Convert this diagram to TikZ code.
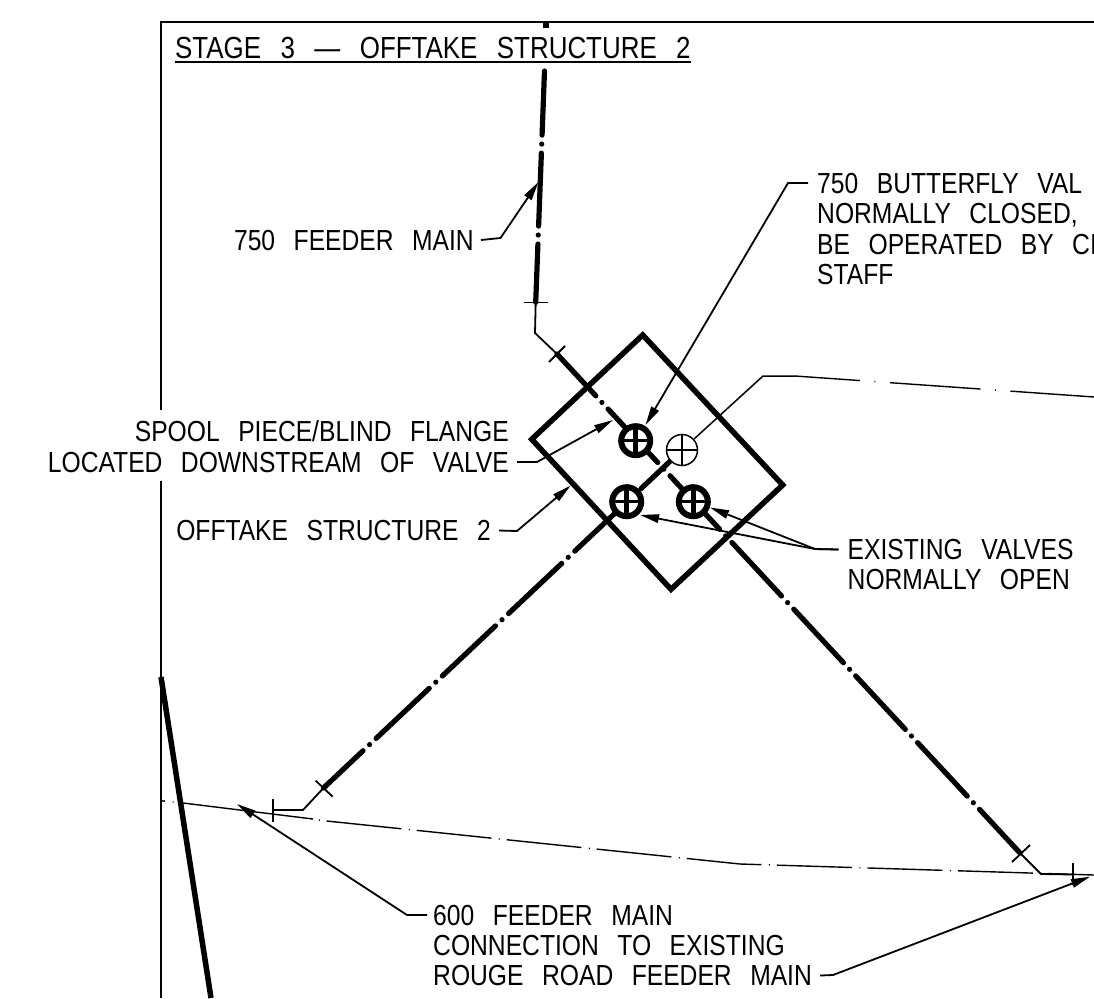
\documentclass[tikz,border=0pt]{standalone}
\usepackage{fontspec}
\setmainfont{Liberation Sans}[FakeStretch=0.85,WordSpace=2.7]
\usetikzlibrary{arrows.meta}
\tikzset{
  lbl/.style={inner sep=0pt,anchor=base west,font=\fontsize{29}{30}\selectfont},
  lblr/.style={lbl,anchor=base east},
  frameline/.style={line width=2pt},
  leader/.style={line width=1.8pt,-{Triangle[length=19pt,width=8.5pt]}},
  thinline/.style={line width=1.5pt},
  tick/.style={line width=1.8pt},
  structure/.style={line width=5.5pt,line join=miter},
  pipe/.style={line width=5.2pt,line cap=round,dash pattern=on 73pt off 9pt on 0.01pt off 9pt},
  centreline/.style={line width=1.4pt},
  valve/.style={circle,draw,fill=white,inner sep=0pt,minimum size=29pt,line width=6pt,
    path picture={
      \draw[line width=5pt] (path picture bounding box.north) to (path picture bounding box.south);
      \draw[line width=3.5pt] (path picture bounding box.west) to (path picture bounding box.east);
    }},
  valveopen/.style={circle,draw,fill=white,inner sep=0pt,minimum size=31pt,line width=1.5pt,
    path picture={
      \draw[line width=1.5pt] (path picture bounding box.north) to (path picture bounding box.south);
      \draw[line width=1.5pt] (path picture bounding box.west) to (path picture bounding box.east);
    }}
}
\begin{document}
\begin{tikzpicture}[x=1pt,y=-1pt]
  \clip (0,0) rectangle (1094,998);
  \draw
    (160.5,22) coordinate (frametl)
    (1094,22) coordinate (frametr)
    (160.5,410) coordinate (framegapa)
    (160.5,481) coordinate (framegapb)
    (160.5,998) coordinate (framebl)
    (546,22) coordinate (stuba)
    (546,28) coordinate (stubb)
    (544.5,71) coordinate (maintop)
    (535.7,302.3) coordinate (maintick)
    (535,333) coordinate (mainbend)
    (557,354) coordinate (righttickb)
    (1020,853) coordinate (righttick)
    (1041,874) coordinate (rightbend)
    (1073,874.5) coordinate (rightend)
    (323.5,788) coordinate (lefttick)
    (303,810) coordinate (leftbend)
    (273,810) coordinate (leftend)
    (161,677) coordinate (roada)
    (211,998) coordinate (roadb)
    (642.7,335) coordinate (ka)
    (782.7,485) coordinate (kb)
    (671,589.3) coordinate (kc)
    (531.7,439.3) coordinate (kd);
  \draw[frameline] (framegapa) to (frametl) to (frametr);
  \draw[frameline] (framegapb) to (framebl);
  \draw[line width=5.5pt] (roada) to (roadb);
  \draw[structure] (ka) to (kb) to (kc) to (kd) to cycle;

  \draw
    (524,302.5) coordinate (ta3) (548,302.5) coordinate (ta4)
    (549,362) coordinate (tb1) (565,346) coordinate (tb2)
    (1012,862) coordinate (tc1) (1030,845) coordinate (tc2)
    (1073,863) coordinate (td1) (1073,885) coordinate (td2)
    (315.7,780.7) coordinate (te1) (332.7,796.7) coordinate (te2)
    (273,799) coordinate (tf1) (273,822) coordinate (tf2);
  \begin{scope}[tick]
    \draw (ta3) to (ta4);
    \draw (tb1) to (tb2);
    \draw (tc1) to (tc2);
    \draw (td1) to (td2);
    \draw (te1) to (te2);
    \draw (tf1) to (tf2);
    \draw (maintick) to (mainbend) to (righttickb);
    \draw (righttick) to (rightbend) to (rightend);
    \draw (lefttick) to (leftbend) to (leftend);
  \end{scope}

  \draw[line width=5.2pt] (stuba) to (stubb);
  \draw[pipe,dash phase=14.7pt] (maintick) to (maintop);
  \draw[pipe,dash phase=13.4pt] (righttick) to (righttickb);
  \draw (682,450) coordinate (valvebc);
  \draw[pipe,dash phase=18.7pt] (lefttick) to (valvebc);
  \draw (682,450) node[valveopen] (valveb){};
  \draw
    (635.7,440.7) node[valve] (valvea){}
    (626.7,501.7) node[valve] (valvec){}
    (693.3,501.7) node[valve] (valved){};

  \draw
    (740,397) coordinate (cla)
    (763,376) coordinate (clb)
    (795,376) coordinate (clc)
    (1094,397) coordinate (cld)
    (162,800.8) coordinate (cle)
    (165,801.2) coordinate (clf)
    (172.7,802) coordinate (clg)
    (173.5,802.1) coordinate (clh)
    (183,803) coordinate (cli)
    (313,819) coordinate (clj)
    (319,820) coordinate (clk)
    (320,820.1) coordinate (cll)
    (326.7,821) coordinate (clm)
    (740,864) coordinate (cln)
    (1094,875) coordinate (clo);
  \draw[thinline] (valveb) to (cla) to (clb) to (clc);
  \begin{scope}[centreline]
    \draw[dash pattern=on 91pt off 14.5pt on 1pt off 14.5pt,dash phase=26pt] (clc) to (cld);
    \draw (cle) to (clf);
    \draw (clg) to (clh);
    \draw (cli) to (clj);
    \draw (clk) to (cll);
    \draw[dash pattern=on 75pt off 7.5pt on 1pt off 7pt] (clm) to (cln) to (clo);
  \end{scope}

  \draw
    (175,59) node[lbl,inner ysep=3pt,font=\fontsize{30.5}{32}\selectfont] (title){STAGE 3 — OFFTAKE STRUCTURE 2}
    (474,250) node[lblr] (feederlbl){750 FEEDER MAIN}
    (817,193) node[lbl] (bfa){750 BUTTERFLY VAL}
    (817,223.5) node[lbl] (bfb){NORMALLY CLOSED,}
    (817,254) node[lbl] (bfc){BE OPERATED BY CI}
    (817,284) node[lbl] (bfd){STAFF}
    (509,441.5) node[lblr] (spoola){SPOOL PIECE/BLIND FLANGE}
    (509,472) node[lblr] (spoolb){LOCATED DOWNSTREAM OF VALVE}
    (491,540.5) node[lblr] (offtakelbl){OFFTAKE STRUCTURE 2}
    (847.5,559.5) node[lbl] (exista){EXISTING VALVES}
    (847.5,589.5) node[lbl] (existb){NORMALLY OPEN}
    (433,925) node[lbl] (conna){600 FEEDER MAIN}
    (433,955.5) node[lbl] (connb){CONNECTION TO EXISTING}
    (433,985.5) node[lbl] (connc){ROUGE ROAD FEEDER MAIN};
  \draw[frameline] (title.south west) to (title.south east);

  \draw
    (500.5,238) coordinate (kneefeeder) (538.5,182) coordinate (tipfeeder)
    (788,183) coordinate (kneebf) (645.5,425) coordinate (tipbf)
    (537,462) coordinate (kneespool) (613,420) coordinate (tipspool)
    (517,531) coordinate (kneeofftake) (570.7,485.5) coordinate (tipofftake)
    (815,549) coordinate (kneeexist) (640,515) coordinate (tipexista) (710,507.5) coordinate (tipexistb)
    (407,915) coordinate (kneeconn) (237,804) coordinate (tipconn)
    (833,975) coordinate (kneeroad) (1090,876.7) coordinate (tiproad);
  \begin{scope}[leader]
    \draw ([xshift=7pt]feederlbl.east) to (kneefeeder) to (tipfeeder);
    \draw ([xshift=-9pt]bfa.west) to (kneebf) to (tipbf);
    \draw ([xshift=8pt]spoolb.east) to (kneespool) to (tipspool);
    \draw ([xshift=8pt]offtakelbl.east) to (kneeofftake) to (tipofftake);
    \draw ([xshift=-9pt]exista.west) to (kneeexist) to (tipexista);
    \draw ([xshift=-9pt]exista.west) to (kneeexist) to (tipexistb);
    \draw ([xshift=-6pt]conna.west) to (kneeconn) to (tipconn);
    \draw ([xshift=8pt]connc.east) to (kneeroad) to (tiproad);
  \end{scope}
\end{tikzpicture}
\end{document}
